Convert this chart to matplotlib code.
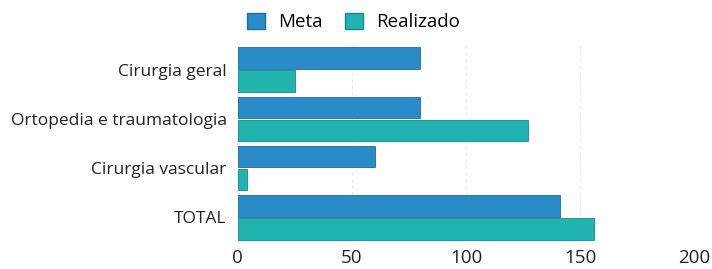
import numpy as np
import matplotlib
matplotlib.use("Agg")
import matplotlib.pyplot as plt
from matplotlib.patches import Patch

categories = ["Cirurgia geral", "Ortopedia e traumatologia", "Cirurgia vascular", "TOTAL"]
meta = [80, 80, 60, 141]
realizado = [25, 127, 4, 156]
xticks = [0, 50, 100, 150, 200]

blue = "#2b8bc9"
teal = "#20b3b0"

plt.rcParams['font.family'] = ['Open Sans', 'DejaVu Sans']

fig = plt.figure(figsize=(7.12, 2.69), dpi=100)
ax = fig.add_axes([0.334, 0.100, 0.641, 0.733])

y = np.arange(len(categories))
h = 0.43
off = 0.233
ax.barh(y - off, meta, height=h, color=blue, edgecolor="#1f6f9f", linewidth=0.6, zorder=3)
ax.barh(y + off, realizado, height=h, color=teal, edgecolor="#178a88", linewidth=0.6, zorder=3)

ax.set_ylim(3.5, -0.5)
ax.set_xlim(0, 200)
ax.set_yticks(y)
ax.set_yticklabels(categories, fontsize=12.5, color="#222222")
ax.set_xticks(xticks)
ax.set_xticklabels([str(t) for t in xticks], fontsize=13.5, color="#222222")
ax.tick_params(length=0, pad=8)
ax.tick_params(axis="x", pad=5)

for s in ax.spines.values():
    s.set_visible(False)
ax.grid(axis="x", color="#e8e8e8", linestyle=(0, (3, 3)), linewidth=0.8, zorder=0)

handles = [Patch(facecolor=blue, edgecolor="#1f6f9f", label="Meta"),
           Patch(facecolor=teal, edgecolor="#178a88", label="Realizado")]
fig.legend(handles=handles, loc="center", bbox_to_anchor=(0.497, 0.918), ncol=2,
           frameon=False, fontsize=13.5, handlelength=0.95, handleheight=0.95,
           columnspacing=1.2, handletextpad=0.7)

fig.savefig("out.png", dpi=100)
